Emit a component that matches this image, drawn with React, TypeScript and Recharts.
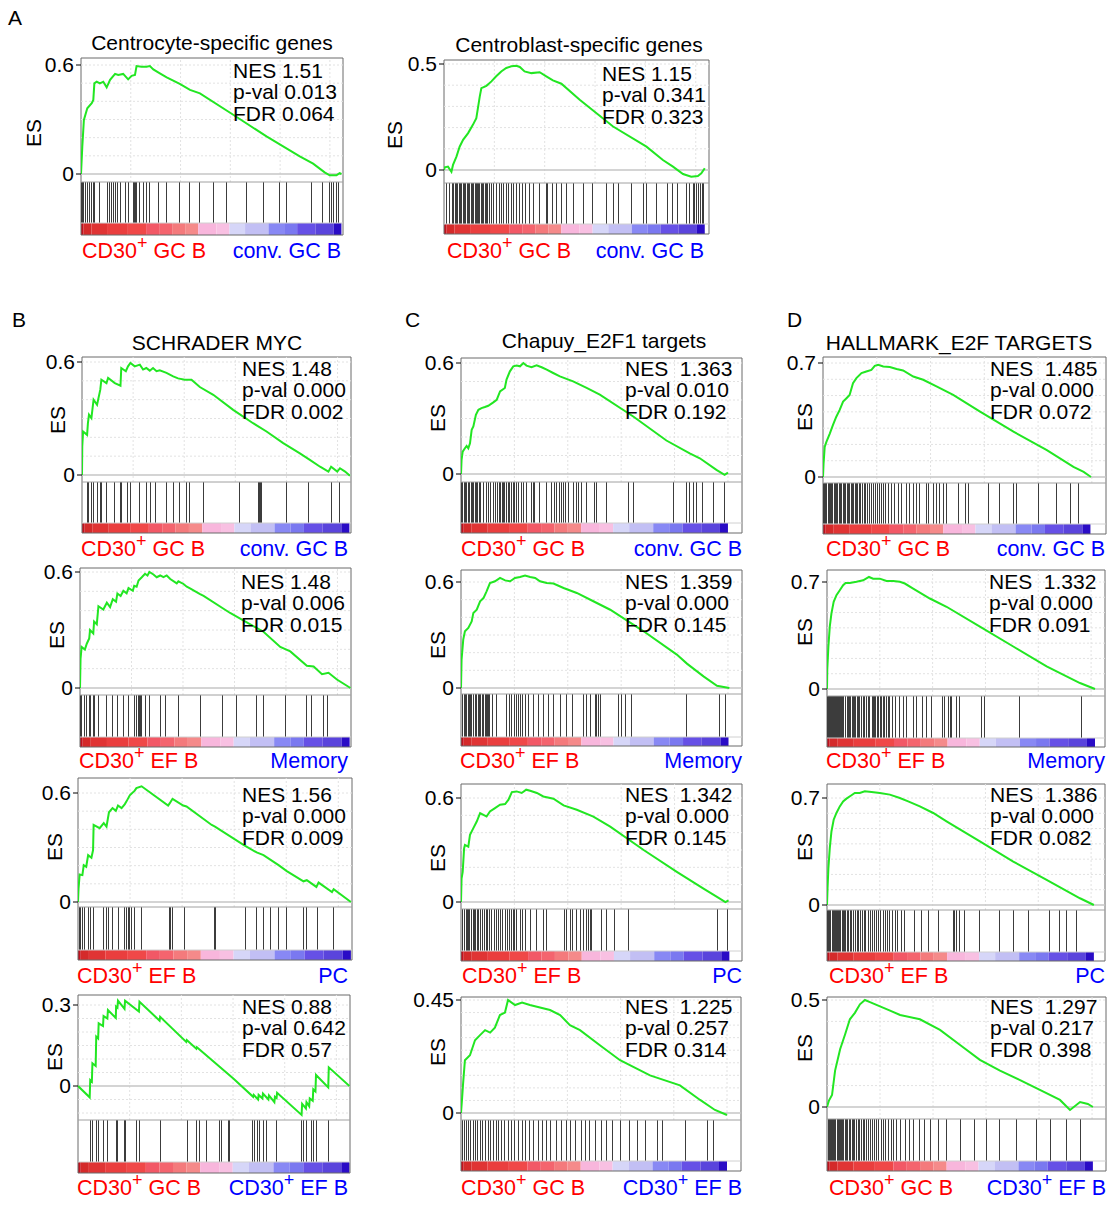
import React from 'react';
import { ComposedChart, Line, XAxis, YAxis, ReferenceLine, ReferenceArea } from 'recharts';

const FONT = '"Liberation Sans", Arial, Helvetica, sans-serif';
const GREEN = '#22e622';
const RED = '#ff0000';
const BLUE = '#0000ff';

// ---------- shared ranked-list heat bar ----------
const GRADIENT_EDGES = [0, 1, 4, 10, 18, 25, 30, 35, 40, 45, 52, 57, 63, 72, 78, 83, 90, 97, 100];
const GRADIENT_COLORS = ['#c0121e', '#d42a2a', '#e03434', '#ea3e3e', '#f04848', '#f25866', '#f4646e', '#f47a7c', '#f58a8a', '#f8b6dc', '#f8c0e2', '#d6d6f8', '#c2bff4', '#8888f4', '#7a78f0', '#6650e6', '#5a44dc', '#2a0cc6'];
const V_GRID = [19, 38, 57, 76, 95];

// ---------- A1 Centrocyte-specific genes ----------
const A1_POS = [0, 0.5, 1.1, 2.4, 4.1, 4.7, 5.1, 6.0, 7.2, 8.5, 9.8, 11.1, 13.0, 14.2, 16.1, 18.0, 19.3, 20.6, 21.2, 23.1, 25.0, 26.3, 27.6, 30.1, 32.7, 37.7, 41.6, 45.4, 58.1, 70.8, 83.5, 88.6, 93.0, 94.9, 97.5, 98.7, 99.4];
const A1_ES = [0, 0.152, 0.298, 0.362, 0.39, 0.408, 0.499, 0.508, 0.499, 0.508, 0.477, 0.518, 0.551, 0.545, 0.551, 0.521, 0.54, 0.545, 0.594, 0.591, 0.591, 0.594, 0.576, 0.554, 0.532, 0.496, 0.463, 0.444, 0.326, 0.207, 0.097, 0.057, 0.009, -0.007, -0.007, 0.005, 0];
const A1_HITS = [0.3, 0.6, 1.1, 1.7, 2.4, 3.2, 4.1, 4.7, 5.3, 7.2, 10.0, 10.8, 11.7, 12.3, 13.3, 13.9, 14.9, 16.8, 18.0, 19.9, 20.3, 20.7, 21.1, 22.5, 24.0, 25.0, 26.0, 29.5, 32.7, 37.7, 41.6, 45.4, 50.4, 55.5, 63.2, 69.5, 75.9, 78.4, 87.9, 92.1, 94.9, 95.6, 96.2, 97.5, 98.1];
const A1_STATS = ['NES 1.51', 'p-val 0.013', 'FDR 0.064'];

// ---------- A2 Centroblast-specific genes ----------
const A2_POS = [0, 0.3, 1.5, 2.8, 3.4, 4.7, 5.9, 7.2, 9.1, 10.9, 12.2, 13.5, 14.1, 16.0, 17.9, 19.7, 21.6, 23.5, 25.4, 27.3, 28.6, 30.4, 33.0, 36.1, 38.6, 41.1, 44.3, 51.2, 63.8, 76.4, 82.6, 86.4, 90.2, 93.3, 95.8, 97.1, 98.4];
const A2_ES = [0, 0.013, 0.016, -0.008, 0.024, 0.063, 0.11, 0.142, 0.174, 0.213, 0.244, 0.347, 0.386, 0.397, 0.418, 0.442, 0.465, 0.481, 0.489, 0.492, 0.486, 0.465, 0.457, 0.461, 0.442, 0.423, 0.407, 0.331, 0.205, 0.11, 0.047, 0.016, -0.019, -0.032, -0.028, -0.016, 0.008];
const A2_HITS = [0.9, 2.1, 3.1, 3.6, 4.2, 4.7, 5.2, 5.7, 6.2, 6.7, 7.2, 7.7, 8.2, 8.7, 9.2, 9.7, 10.2, 10.7, 11.2, 11.7, 12.2, 12.6, 13.0, 13.5, 14.0, 14.5, 15.0, 15.5, 16.0, 16.6, 17.2, 18.0, 18.7, 19.7, 20.8, 21.6, 22.5, 23.5, 24.5, 25.4, 26.3, 27.3, 28.6, 29.6, 30.6, 32.1, 33.6, 36.1, 38.6, 39.2, 41.1, 42.4, 44.3, 46.2, 48.7, 52.7, 56.2, 61.5, 63.8, 65.7, 70.7, 75.1, 76.4, 80.1, 84.2, 86.4, 88.3, 91.4, 92.7, 94.0, 94.6, 95.2, 96.2, 96.9, 97.5, 98.0];
const A2_STATS = ['NES 1.15', 'p-val 0.341', 'FDR 0.323'];

// ---------- B1 SCHRADER MYC, GC ----------
const B1_POS = [0, 0.1, 0.4, 1.9, 2.2, 2.6, 3.5, 4.3, 5.6, 6.8, 7.2, 9.1, 9.7, 12.2, 14.3, 14.6, 16.3, 17.1, 18.0, 19.6, 21.5, 22.7, 23.9, 25.2, 26.4, 27.7, 28.9, 31.4, 33.9, 35.7, 38.2, 40.7, 43.8, 48.8, 56.2, 63.6, 68.6, 74.8, 81.0, 84.7, 88.5, 91.6, 92.6, 94.9, 95.9, 97.8, 99.6];
const B1_ES = [0, 0.151, 0.231, 0.213, 0.275, 0.32, 0.302, 0.40, 0.373, 0.453, 0.506, 0.488, 0.515, 0.488, 0.474, 0.568, 0.551, 0.577, 0.595, 0.577, 0.586, 0.56, 0.568, 0.554, 0.568, 0.551, 0.556, 0.542, 0.524, 0.513, 0.506, 0.506, 0.467, 0.426, 0.346, 0.275, 0.231, 0.169, 0.115, 0.08, 0.044, 0.018, 0.044, 0.018, 0.036, 0.018, -0.004];
const B1_HITS = [1.9, 2.2, 2.6, 3.5, 4.1, 4.3, 5.6, 6.8, 7.1, 7.3, 9.1, 12.2, 14.3, 14.5, 14.8, 17.1, 18.0, 21.5, 23.9, 25.4, 27.4, 31.4, 33.9, 36.4, 38.8, 39.8, 45.0, 58.7, 65.5, 65.9, 66.4, 66.7, 76.1, 84.1, 92.6, 95.9];
const B1_STATS = ['NES 1.48', 'p-val 0.000', 'FDR 0.002'];

// ---------- C1 Chapuy_E2F1, GC ----------
const C1_POS = [0, 0.2, 0.6, 1.4, 2.0, 2.6, 3.2, 3.8, 4.4, 5.3, 6.2, 7.3, 8.5, 9.7, 11.5, 12.7, 13.9, 15.6, 16.2, 17.4, 18.6, 19.8, 21.0, 22.2, 23.3, 25.1, 26.9, 28.7, 30.5, 32.8, 35.2, 39.9, 44.7, 49.4, 61.3, 73.1, 81.4, 85.0, 90.9, 93.8, 95.0];
const C1_ES = [0, 0.076, 0.121, 0.139, 0.152, 0.139, 0.166, 0.239, 0.257, 0.32, 0.347, 0.356, 0.362, 0.369, 0.387, 0.401, 0.447, 0.465, 0.51, 0.555, 0.582, 0.586, 0.582, 0.60, 0.586, 0.577, 0.588, 0.577, 0.564, 0.546, 0.528, 0.501, 0.465, 0.429, 0.311, 0.181, 0.112, 0.085, 0.022, -0.005, 0.007];
const C1_HITS = [0.2, 0.6, 1.1, 1.5, 2.0, 2.6, 3.2, 3.8, 4.1, 4.6, 5.1, 5.6, 6.0, 6.5, 7.0, 7.9, 8.9, 9.7, 10.5, 11.5, 12.2, 12.9, 13.6, 14.1, 14.6, 15.0, 15.5, 16.2, 16.8, 17.4, 18.0, 18.6, 19.2, 19.8, 20.4, 21.6, 22.2, 23.3, 25.1, 25.7, 26.3, 28.1, 30.5, 32.2, 33.1, 34.0, 35.0, 35.8, 36.4, 37.3, 38.2, 39.9, 41.1, 41.7, 42.9, 44.7, 47.6, 48.2, 51.8, 59.5, 61.3, 75.5, 80.2, 81.4, 82.6, 83.8, 86.1, 89.7, 93.8];
const C1_STATS = ['NES  1.363', 'p-val 0.010', 'FDR 0.192'];

// ---------- D1 HALLMARK_E2F, GC ----------
const D1_POS = [0, 0.2, 0.6, 1.2, 2.4, 3.5, 4.7, 5.9, 7.1, 8.3, 9.4, 10.6, 11.8, 13.6, 15.3, 17.1, 18.3, 19.5, 21.3, 23.6, 26.0, 28.3, 31.9, 35.4, 40.1, 46.0, 55.5, 67.3, 79.1, 88.5, 92.1, 94.7];
const D1_ES = [0, 0.082, 0.185, 0.216, 0.267, 0.319, 0.37, 0.412, 0.463, 0.484, 0.504, 0.576, 0.607, 0.638, 0.648, 0.658, 0.683, 0.689, 0.679, 0.675, 0.663, 0.654, 0.617, 0.597, 0.556, 0.504, 0.401, 0.278, 0.165, 0.062, 0.031, 0];
const D1_HITS = [0.2, 0.6, 1.0, 1.4, 1.8, 2.2, 2.7, 3.1, 3.5, 3.9, 4.4, 4.8, 5.3, 5.8, 6.2, 6.7, 7.1, 7.6, 8.1, 8.5, 9.0, 9.5, 10.0, 10.4, 10.9, 11.4, 11.9, 12.3, 12.8, 13.4, 14.0, 14.5, 15.1, 15.8, 16.5, 17.2, 17.8, 18.5, 19.1, 19.8, 20.6, 21.3, 22.1, 23.0, 24.2, 25.4, 26.6, 27.7, 29.5, 30.7, 31.9, 32.9, 34.2, 36.6, 37.2, 39.0, 40.1, 41.3, 42.5, 43.7, 47.8, 50.2, 51.4, 58.4, 62.5, 67.3, 68.5, 76.2, 82.6, 87.4, 90.3];
const D1_STATS = ['NES  1.485', 'p-val 0.000', 'FDR 0.072'];

// ---------- B2 SCHRADER MYC, EF vs Memory ----------
const B2_POS = [0, 0.2, 0.6, 1.8, 2.5, 3.4, 3.7, 4.9, 5.2, 6.2, 6.8, 8.6, 9.9, 11.1, 12.1, 13.3, 13.8, 15.0, 16.0, 17.2, 17.9, 19.5, 20.0, 20.9, 21.6, 22.8, 24.0, 24.9, 25.6, 27.1, 28.3, 29.6, 30.8, 32.0, 33.3, 35.7, 36.3, 38.2, 39.4, 40.6, 44.3, 45.6, 55.4, 67.7, 73.9, 77.6, 83.7, 86.2, 89.3, 91.7, 94.8, 99.8];
const B2_ES = [0, 0.15, 0.212, 0.199, 0.229, 0.256, 0.3, 0.282, 0.344, 0.33, 0.423, 0.406, 0.441, 0.418, 0.459, 0.446, 0.489, 0.476, 0.503, 0.49, 0.517, 0.503, 0.529, 0.524, 0.556, 0.573, 0.591, 0.582, 0.60, 0.587, 0.573, 0.582, 0.573, 0.582, 0.564, 0.541, 0.552, 0.538, 0.524, 0.515, 0.485, 0.476, 0.388, 0.291, 0.212, 0.189, 0.115, 0.111, 0.071, 0.079, 0.044, 0];
const B2_HITS = [0.2, 0.5, 1.8, 2.5, 3.4, 3.7, 4.9, 5.5, 6.8, 9.9, 12.1, 13.8, 16.0, 17.9, 20.0, 20.9, 21.6, 21.9, 22.4, 22.8, 24.0, 25.6, 29.6, 31.4, 36.3, 44.6, 52.7, 57.9, 65.3, 67.7, 75.7, 83.7, 85.6, 89.9, 91.5];
const B2_STATS = ['NES 1.48', 'p-val 0.006', 'FDR 0.015'];

// ---------- C2 ----------
const C2_POS = [0, 0.2, 0.8, 1.4, 2.6, 3.8, 4.4, 5.6, 6.8, 8.0, 9.1, 10.3, 12.1, 13.9, 15.7, 17.5, 19.2, 21.0, 22.8, 24.6, 26.4, 28.1, 30.5, 32.9, 36.5, 41.2, 47.1, 53.1, 65.0, 76.8, 80.4, 86.3, 91.1, 93.5, 95.5];
const C2_ES = [0, 0.16, 0.274, 0.321, 0.34, 0.377, 0.425, 0.443, 0.491, 0.509, 0.547, 0.594, 0.604, 0.623, 0.609, 0.604, 0.623, 0.628, 0.636, 0.628, 0.623, 0.604, 0.594, 0.591, 0.566, 0.538, 0.491, 0.443, 0.321, 0.189, 0.138, 0.066, 0.013, 0.006, 0];
const C2_HITS = [0.6, 1.1, 1.5, 2.0, 2.5, 3.0, 3.4, 3.9, 4.4, 5.0, 5.6, 6.1, 6.5, 7.0, 7.5, 8.0, 8.6, 8.9, 9.4, 9.9, 10.3, 11.3, 12.5, 16.3, 17.2, 18.1, 18.9, 19.6, 20.4, 21.0, 22.0, 22.8, 24.0, 25.8, 27.6, 29.3, 31.1, 32.9, 35.3, 37.6, 39.8, 43.6, 44.8, 46.0, 47.7, 48.3, 48.9, 49.5, 56.1, 57.2, 58.4, 60.8, 80.2, 92.0, 94.1];
const C2_STATS = ['NES  1.359', 'p-val 0.000', 'FDR 0.145'];

// ---------- D2 ----------
const D2_POS = [0, 0.1, 0.5, 1.0, 1.6, 2.4, 3.4, 4.6, 5.8, 6.7, 8.2, 10.6, 13.0, 15.1, 16.6, 19.0, 21.4, 23.8, 26.2, 28.0, 31.0, 37.0, 43.0, 55.0, 67.0, 79.0, 91.0, 96.4];
const D2_ES = [0, 0.126, 0.278, 0.408, 0.495, 0.57, 0.614, 0.646, 0.679, 0.694, 0.694, 0.701, 0.711, 0.733, 0.722, 0.722, 0.707, 0.707, 0.701, 0.69, 0.657, 0.592, 0.538, 0.408, 0.278, 0.148, 0.039, 0];
const D2_HITS = [0.1, 0.4, 0.7, 1.0, 1.3, 1.6, 1.9, 2.2, 2.5, 2.8, 3.1, 3.4, 3.7, 4.0, 4.3, 4.6, 4.9, 5.2, 5.5, 5.8, 6.1, 6.7, 7.2, 7.6, 8.2, 8.6, 9.1, 9.6, 10.0, 10.3, 10.8, 11.3, 11.8, 12.4, 13.0, 13.6, 14.2, 14.8, 15.4, 16.3, 16.8, 17.2, 17.5, 18.0, 18.4, 18.7, 19.2, 19.7, 20.2, 20.8, 21.4, 22.0, 22.6, 23.5, 24.7, 25.9, 27.4, 28.6, 31.0, 32.2, 34.3, 35.8, 37.6, 41.5, 42.4, 43.6, 44.4, 44.8, 46.6, 47.8, 55.6, 56.8, 69.4, 91.6];
const D2_STATS = ['NES  1.332', 'p-val 0.000', 'FDR 0.091'];

// ---------- B3 ----------
const B3_POS = [0, 0.2, 0.6, 1.6, 2.1, 3.0, 3.7, 4.9, 5.5, 5.7, 7.9, 9.4, 10.4, 11.3, 12.6, 13.8, 14.6, 15.9, 17.1, 17.7, 18.9, 20.7, 21.3, 23.2, 32.9, 33.5, 34.5, 38.4, 39.6, 48.8, 50.0, 60.4, 65.2, 67.7, 73.2, 76.2, 82.3, 83.5, 87.0, 87.8, 92.7, 93.3, 99.6];
const B3_ES = [0, 0.074, 0.151, 0.148, 0.203, 0.194, 0.258, 0.244, 0.286, 0.424, 0.406, 0.434, 0.415, 0.494, 0.517, 0.502, 0.531, 0.517, 0.539, 0.554, 0.587, 0.613, 0.627, 0.637, 0.531, 0.544, 0.568, 0.531, 0.526, 0.424, 0.415, 0.314, 0.273, 0.258, 0.203, 0.17, 0.114, 0.12, 0.083, 0.107, 0.055, 0.07, 0];
const B3_HITS = [0.4, 0.9, 1.8, 2.4, 3.7, 4.5, 5.7, 9.4, 10.4, 11.3, 12.6, 14.6, 17.1, 17.7, 18.3, 18.9, 19.5, 20.7, 23.2, 33.3, 33.8, 34.5, 39.0, 49.8, 50.2, 61.0, 65.2, 67.7, 70.1, 73.2, 76.2, 82.3, 83.3, 87.4, 93.3];
const B3_STATS = ['NES 1.56', 'p-val 0.000', 'FDR 0.009'];

// ---------- C3 ----------
const C3_POS = [0, 0.2, 0.6, 1.1, 1.4, 2.6, 3.2, 4.4, 5.6, 6.8, 8.0, 9.1, 10.3, 12.1, 13.9, 15.7, 16.9, 18.1, 19.8, 21.6, 23.2, 24.6, 27.0, 29.3, 32.9, 36.5, 41.2, 47.1, 53.1, 65.0, 76.8, 86.3, 91.1, 94.1, 95.2];
const C3_ES = [0, 0.135, 0.174, 0.309, 0.329, 0.319, 0.387, 0.426, 0.464, 0.513, 0.503, 0.493, 0.522, 0.542, 0.561, 0.565, 0.59, 0.634, 0.638, 0.629, 0.648, 0.642, 0.629, 0.609, 0.596, 0.557, 0.532, 0.493, 0.435, 0.30, 0.174, 0.077, 0.029, 0, 0.01];
const C3_HITS = [0.6, 1.2, 1.8, 2.3, 2.7, 3.2, 3.6, 3.9, 4.4, 4.9, 5.3, 5.8, 6.3, 7.0, 7.7, 8.2, 8.9, 9.6, 10.3, 11.0, 11.8, 12.5, 13.2, 13.9, 14.8, 15.7, 16.5, 17.2, 18.1, 18.6, 19.2, 19.8, 21.0, 22.0, 22.8, 24.6, 27.0, 29.3, 30.5, 36.7, 37.6, 38.8, 39.8, 41.2, 42.6, 43.6, 44.5, 45.4, 46.0, 46.6, 50.1, 51.9, 54.5, 59.6, 91.3, 94.9];
const C3_STATS = ['NES  1.342', 'p-val 0.000', 'FDR 0.145'];

// ---------- D3 ----------
const D3_POS = [0, 0.2, 0.5, 1.0, 1.6, 2.4, 3.4, 4.6, 5.8, 7.0, 8.8, 10.0, 11.8, 13.6, 16.0, 19.0, 22.6, 26.2, 29.2, 33.4, 38.2, 43.0, 55.0, 67.0, 79.0, 91.0, 96.0];
const D3_ES = [0, 0.109, 0.241, 0.372, 0.481, 0.558, 0.602, 0.645, 0.678, 0.696, 0.718, 0.733, 0.733, 0.744, 0.74, 0.733, 0.722, 0.70, 0.678, 0.645, 0.602, 0.547, 0.416, 0.284, 0.164, 0.044, 0];
const D3_HITS = [0.2, 0.6, 1.0, 1.4, 1.8, 2.2, 2.6, 3.0, 3.4, 3.8, 4.2, 4.6, 5.0, 5.4, 5.8, 6.2, 6.7, 7.2, 7.8, 8.3, 8.9, 9.5, 10.1, 10.8, 11.4, 12.0, 12.7, 13.4, 14.0, 14.8, 15.5, 16.2, 17.0, 17.8, 18.6, 19.4, 20.2, 21.0, 21.8, 22.6, 23.5, 24.5, 25.5, 26.8, 28.0, 31.6, 34.0, 36.4, 40.0, 45.4, 46.0, 46.6, 47.8, 49.5, 55.0, 62.2, 67.0, 72.4, 80.2, 83.8, 86.2, 89.6];
const D3_STATS = ['NES  1.386', 'p-val 0.000', 'FDR 0.082'];

// ---------- B4 ----------
const B4_POS = [0, 4.3, 4.5, 5.1, 5.3, 6.5, 6.7, 7.4, 7.6, 9.2, 9.4, 10.8, 11.0, 13.9, 14.0, 14.5, 14.7, 17.1, 17.3, 22.4, 22.6, 30.0, 30.2, 39.8, 40.0, 43.5, 43.7, 57.1, 64.4, 64.6, 66.2, 66.4, 67.8, 68.0, 70.0, 70.2, 72.2, 72.4, 73.0, 73.2, 82.2, 82.4, 83.8, 84.0, 85.0, 85.2, 86.3, 86.5, 87.3, 87.5, 92.0, 92.2, 99.8];
const B4_ES = [0, -0.042, 0.022, 0.016, 0.084, 0.074, 0.183, 0.176, 0.232, 0.222, 0.259, 0.25, 0.281, 0.252, 0.294, 0.29, 0.316, 0.286, 0.316, 0.276, 0.312, 0.242, 0.256, 0.163, 0.17, 0.138, 0.144, 0.028, -0.04, -0.033, -0.05, -0.033, -0.046, -0.028, -0.05, -0.035, -0.06, -0.04, -0.045, -0.025, -0.107, -0.066, -0.083, -0.06, -0.075, -0.046, -0.055, -0.012, -0.02, 0.041, -0.005, 0.069, 0];
const B4_HITS = [4.5, 5.3, 6.7, 7.6, 9.4, 11.0, 14.1, 14.5, 17.2, 17.5, 21.5, 22.7, 30.3, 40.1, 43.6, 44.8, 47.2, 52.1, 52.8, 55.2, 55.8, 64.2, 65.0, 65.9, 66.9, 68.1, 69.3, 73.0, 82.2, 82.8, 84.0, 85.9, 86.5, 87.7, 92.0];
const B4_STATS = ['NES 0.88', 'p-val 0.642', 'FDR 0.57'];

// ---------- C4 ----------
const C4_POS = [0, 0.4, 0.7, 1.4, 3.2, 5.0, 6.8, 8.6, 10.4, 12.1, 13.9, 15.7, 16.8, 19.3, 21.8, 24.6, 28.2, 31.8, 35.4, 38.9, 42.5, 49.6, 56.8, 67.5, 78.2, 85.4, 90.7, 95.0];
const C4_ES = [0, 0.06, 0.11, 0.21, 0.23, 0.29, 0.31, 0.33, 0.32, 0.34, 0.39, 0.40, 0.45, 0.43, 0.44, 0.43, 0.42, 0.41, 0.39, 0.35, 0.33, 0.27, 0.21, 0.15, 0.11, 0.052, 0.012, -0.008];
const C4_HITS = [0.5, 1.2, 2.0, 2.8, 3.5, 4.3, 5.2, 6.0, 7.0, 7.8, 8.8, 9.8, 10.6, 11.5, 12.5, 13.4, 14.5, 15.5, 16.8, 18.0, 19.2, 20.5, 21.8, 23.0, 24.5, 26.0, 27.5, 29.0, 30.5, 32.0, 34.0, 36.0, 37.5, 39.0, 41.0, 43.0, 44.5, 46.0, 48.0, 50.0, 52.0, 54.0, 57.0, 60.0, 63.0, 66.0, 70.0, 72.0, 80.0, 88.0, 90.0];
const C4_STATS = ['NES  1.225', 'p-val 0.257', 'FDR 0.314'];

// ---------- D4 ----------
const D4_POS = [0, 0.7, 1.8, 2.9, 4.7, 6.5, 8.2, 10.0, 11.8, 13.6, 15.4, 19.0, 22.6, 26.2, 33.3, 40.5, 47.7, 54.8, 62.0, 69.2, 76.3, 83.5, 87.1, 90.7, 93.5, 95.3];
const D4_ES = [0, 0.03, 0.056, 0.17, 0.27, 0.34, 0.41, 0.44, 0.48, 0.50, 0.49, 0.47, 0.45, 0.43, 0.41, 0.36, 0.29, 0.22, 0.17, 0.126, 0.08, 0.033, -0.014, 0.023, 0.014, 0];
const D4_HITS = [0.4, 0.8, 1.2, 1.6, 2.0, 2.4, 2.8, 3.2, 3.6, 4.0, 4.4, 4.8, 5.2, 5.6, 6.0, 6.5, 7.0, 7.5, 8.0, 8.5, 9.0, 9.5, 10.0, 10.6, 11.2, 11.8, 12.4, 13.0, 13.6, 14.2, 14.8, 15.5, 16.2, 17.0, 17.8, 18.6, 19.4, 20.2, 21.0, 22.0, 23.0, 24.0, 25.0, 26.5, 28.0, 29.5, 31.0, 33.0, 35.0, 37.0, 40.0, 43.0, 48.0, 53.0, 57.0, 62.0, 68.0, 75.0, 80.0, 86.0, 91.0];
const D4_STATS = ['NES  1.297', 'p-val 0.217', 'FDR 0.398'];

// ---------- panel layout (pixels) ----------
type Lay = { left: number; right: number; top: number; pmax: number; vmax: number; p0: number; sep: number; g1: number; g2: number; listEnd: number; step: number;
  nesX: number; nesY: number; esX: number; esY: number; labY: number; labL: number; labR: number; };

const PANELS: { lay: Lay; pos: number[]; es: number[]; hits: number[]; stats: string[]; left: string; right: string; rightSup?: boolean }[] = [
  { lay: { left: 81, right: 343, top: 58, pmax: 65, vmax: 0.6, p0: 174, sep: 182, g1: 223, g2: 235, listEnd: 99.4, step: 0.1, nesX: 233, nesY: 71, esX: 34, esY: 133, labY: 251, labL: 82, labR: 341 }, pos: A1_POS, es: A1_ES, hits: A1_HITS, stats: A1_STATS, left: ' GC B', right: 'conv. GC B' },
  { lay: { left: 444, right: 709, top: 60, pmax: 64, vmax: 0.5, p0: 170, sep: 183, g1: 224, g2: 234, listEnd: 98.4, step: 0.1, nesX: 602, nesY: 74, esX: 395, esY: 135, labY: 251, labL: 447, labR: 704 }, pos: A2_POS, es: A2_ES, hits: A2_HITS, stats: A2_STATS, left: ' GC B', right: 'conv. GC B' },
  { lay: { left: 82, right: 351, top: 357, pmax: 362, vmax: 0.6, p0: 475, sep: 482, g1: 523, g2: 533, listEnd: 99.4, step: 0.1, nesX: 242, nesY: 369, esX: 58, esY: 420, labY: 549, labL: 81, labR: 348 }, pos: B1_POS, es: B1_ES, hits: B1_HITS, stats: B1_STATS, left: ' GC B', right: 'conv. GC B' },
  { lay: { left: 461, right: 742, top: 358, pmax: 363, vmax: 0.6, p0: 474, sep: 482, g1: 523, g2: 533, listEnd: 95, step: 0.1, nesX: 625, nesY: 369, esX: 438, esY: 418, labY: 549, labL: 461, labR: 742 }, pos: C1_POS, es: C1_ES, hits: C1_HITS, stats: C1_STATS, left: ' GC B', right: 'conv. GC B' },
  { lay: { left: 823, right: 1106, top: 357, pmax: 363, vmax: 0.7, p0: 477, sep: 483, g1: 524, g2: 534, listEnd: 94.5, step: 0.1, nesX: 990, nesY: 369, esX: 805, esY: 417, labY: 549, labL: 826, labR: 1105 }, pos: D1_POS, es: D1_ES, hits: D1_HITS, stats: D1_STATS, left: ' GC B', right: 'conv. GC B' },
  { lay: { left: 80, right: 351, top: 568, pmax: 572, vmax: 0.6, p0: 688, sep: 695, g1: 737, g2: 747, listEnd: 99.5, step: 0.1, nesX: 241, nesY: 582, esX: 57, esY: 635, labY: 761, labL: 79, labR: 348 }, pos: B2_POS, es: B2_ES, hits: B2_HITS, stats: B2_STATS, left: ' EF B', right: 'Memory' },
  { lay: { left: 461, right: 742, top: 570, pmax: 582, vmax: 0.6, p0: 688, sep: 694, g1: 737, g2: 746, listEnd: 95.2, step: 0.1, nesX: 625, nesY: 582, esX: 438, esY: 645, labY: 761, labL: 460, labR: 742 }, pos: C2_POS, es: C2_ES, hits: C2_HITS, stats: C2_STATS, left: ' EF B', right: 'Memory' },
  { lay: { left: 827, right: 1105, top: 570, pmax: 582, vmax: 0.7, p0: 689, sep: 696, g1: 738, g2: 747, listEnd: 96.4, step: 0.1, nesX: 989, nesY: 582, esX: 805, esY: 632, labY: 761, labL: 826, labR: 1105 }, pos: D2_POS, es: D2_ES, hits: D2_HITS, stats: D2_STATS, left: ' EF B', right: 'Memory' },
  { lay: { left: 78, right: 352, top: 778, pmax: 793, vmax: 0.6, p0: 902, sep: 907, g1: 950, g2: 960, listEnd: 99.6, step: 0.1, nesX: 242, nesY: 795, esX: 55, esY: 847, labY: 976, labL: 77, labR: 348 }, pos: B3_POS, es: B3_ES, hits: B3_HITS, stats: B3_STATS, left: ' EF B', right: 'PC' },
  { lay: { left: 461, right: 742, top: 784, pmax: 798, vmax: 0.6, p0: 902, sep: 909, g1: 951, g2: 961, listEnd: 95.5, step: 0.1, nesX: 625, nesY: 795, esX: 438, esY: 858, labY: 976, labL: 462, labR: 742 }, pos: C3_POS, es: C3_ES, hits: C3_HITS, stats: C3_STATS, left: ' EF B', right: 'PC' },
  { lay: { left: 827, right: 1105, top: 784, pmax: 798, vmax: 0.7, p0: 905, sep: 910, g1: 952, g2: 961, listEnd: 96, step: 0.1, nesX: 990, nesY: 795, esX: 805, esY: 847, labY: 976, labL: 829, labR: 1105 }, pos: D3_POS, es: D3_ES, hits: D3_HITS, stats: D3_STATS, left: ' EF B', right: 'PC' },
  { lay: { left: 78, right: 350, top: 995, pmax: 1005, vmax: 0.3, p0: 1086, sep: 1120, g1: 1162, g2: 1173, listEnd: 99.8, step: 0.05, nesX: 242, nesY: 1007, esX: 55, esY: 1057, labY: 1188, labL: 77, labR: 348 }, pos: B4_POS, es: B4_ES, hits: B4_HITS, stats: B4_STATS, left: ' GC B', right: ' EF B', rightSup: true },
  { lay: { left: 461, right: 741, top: 997, pmax: 1000, vmax: 0.45, p0: 1113, sep: 1120, g1: 1161, g2: 1171, listEnd: 95, step: 0.05, nesX: 625, nesY: 1007, esX: 438, esY: 1052, labY: 1188, labL: 461, labR: 742 }, pos: C4_POS, es: C4_ES, hits: C4_HITS, stats: C4_STATS, left: ' GC B', right: ' EF B', rightSup: true },
  { lay: { left: 827, right: 1106, top: 997, pmax: 1000, vmax: 0.5, p0: 1107, sep: 1119, g1: 1161, g2: 1171, listEnd: 95.3, step: 0.1, nesX: 990, nesY: 1007, esX: 805, esY: 1048, labY: 1188, labL: 829, labR: 1106 }, pos: D4_POS, es: D4_ES, hits: D4_HITS, stats: D4_STATS, left: ' GC B', right: ' EF B', rightSup: true },
];

const TITLES = [
  { text: 'Centrocyte-specific genes', x: 212, y: 43 },
  { text: 'Centroblast-specific genes', x: 579, y: 45 },
  { text: 'SCHRADER MYC', x: 217, y: 343 },
  { text: 'Chapuy_E2F1 targets', x: 604, y: 341 },
  { text: 'HALLMARK_E2F TARGETS', x: 959, y: 343 },
];
const LETTERS = [
  { text: 'A', x: 8, y: 18 },
  { text: 'B', x: 12, y: 320 },
  { text: 'C', x: 405, y: 320 },
  { text: 'D', x: 787, y: 320 },
];

const YW = 54, MT = 14, MB = 4, MR = 4;
const FS = 21;

function GseaChart({ lay, pos, es, hits }: { lay: Lay; pos: number[]; es: number[]; hits: number[] }) {
  const upp = lay.vmax / (lay.p0 - lay.pmax);
  const yTop = lay.vmax + (lay.pmax - lay.top) * upp;
  const ySep = -(lay.sep - lay.p0) * upp;
  const gTop = -(lay.g1 - lay.p0) * upp;
  const gBot = -(lay.g2 - lay.p0) * upp;
  const data = pos.map((x, i) => ({ x, es: es[i] }));
  const boxW = lay.right - lay.left;
  const hg: number[] = [];
  for (let k = 1; k * lay.step < yTop; k++) hg.push(+(k * lay.step).toFixed(3));
  for (let k = -1; k * lay.step > ySep; k--) hg.push(+(k * lay.step).toFixed(3));
  const scale = lay.listEnd / 100;
  return (
    <div style={{ position: 'absolute', left: lay.left - YW, top: lay.top - MT }}>
      <ComposedChart width={YW + boxW + MR} height={MT + (lay.g2 - lay.top) + MB} data={data} margin={{ top: MT, right: MR, bottom: MB, left: 0 }}>
        <XAxis type="number" dataKey="x" domain={[0, 100]} hide allowDataOverflow />
        <YAxis type="number" domain={[gBot, yTop]} ticks={[0, lay.vmax]} allowDataOverflow width={YW} axisLine={false}
          tickLine={{ stroke: '#000', strokeWidth: 1 }} tickSize={5} tickMargin={2} interval={0}
          tick={{ fontSize: FS, fill: '#000', fontFamily: FONT }} tickFormatter={(v: number) => String(v)} />
        {hg.map((v) => (
          <ReferenceLine key={'h' + v} segment={[{ x: 0, y: v }, { x: 100, y: v }]} stroke="#e2e2e2" strokeDasharray="2 2" />
        ))}
        {V_GRID.map((v) => (
          <ReferenceLine key={'v' + v} segment={[{ x: v, y: ySep }, { x: v, y: yTop }]} stroke="#e2e2e2" strokeDasharray="2 2" />
        ))}
        {GRADIENT_COLORS.map((c, i) => (
          <ReferenceArea key={'g' + i} x1={GRADIENT_EDGES[i] * scale} x2={GRADIENT_EDGES[i + 1] * scale} y1={gBot} y2={gTop} fill={c} fillOpacity={1} stroke="none" ifOverflow="visible" />
        ))}
        {hits.map((h, i) => (
          <ReferenceLine key={'k' + i} segment={[{ x: h, y: ySep }, { x: h, y: gTop }]} stroke="#3c3c3c" strokeWidth={1} shapeRendering="crispEdges" />
        ))}
        <ReferenceLine y={0} stroke="#c6c6c6" strokeWidth={1.5} />
        <ReferenceLine segment={[{ x: 0, y: ySep }, { x: 100, y: ySep }]} stroke="#a0a0a0" />
        <ReferenceLine segment={[{ x: 0, y: gTop }, { x: 100, y: gTop }]} stroke="#d0d0d0" />
        <Line type="linear" dataKey="es" stroke={GREEN} strokeWidth={2} dot={false} isAnimationActive={false} />
        <ReferenceArea x1={0} x2={100} y1={gBot} y2={yTop} fill="none" fillOpacity={0} stroke="#6a6a6a" strokeWidth={1} ifOverflow="visible" />
      </ComposedChart>
    </div>
  );
}

const txt: React.CSSProperties = { position: 'absolute', fontSize: FS, lineHeight: '24px', whiteSpace: 'pre', fontFamily: FONT, color: '#000' };
const lab: React.CSSProperties = { ...txt, fontSize: 21.5 };
const sup: React.CSSProperties = { fontSize: 18, position: 'relative', top: -9 };

export default function App() {
  return (
    <div style={{ position: 'absolute', left: 0, top: 0, width: 1110, height: 1205, background: '#fff', fontFamily: FONT, overflow: 'hidden' }}>
      {PANELS.map((p, i) => (
        <GseaChart key={i} lay={p.lay} pos={p.pos} es={p.es} hits={p.hits} />
      ))}
      {PANELS.map((p, i) => (
        <React.Fragment key={'t' + i}>
          {p.stats.map((s, j) => (
            <div key={j} style={{ ...txt, left: p.lay.nesX, top: p.lay.nesY - 12 + j * 21.3 }}>{s}</div>
          ))}
          <div style={{ ...txt, left: p.lay.esX, top: p.lay.esY, transform: 'translate(-50%, -50%) rotate(-90deg)' }}>ES</div>
          <div style={{ ...lab, left: p.lay.labL, top: p.lay.labY - 12, color: RED }}>CD30<span style={sup}>+</span>{p.left}</div>
          <div style={{ ...lab, right: 1110 - p.lay.labR, top: p.lay.labY - 12, color: BLUE }}>
            {p.rightSup ? (<>CD30<span style={sup}>+</span>{p.right}</>) : p.right}
          </div>
        </React.Fragment>
      ))}
      {TITLES.map((t, i) => (
        <div key={'ti' + i} style={{ ...txt, left: t.x, top: t.y - 12, transform: 'translateX(-50%)' }}>{t.text}</div>
      ))}
      {LETTERS.map((t, i) => (
        <div key={'l' + i} style={{ ...txt, left: t.x, top: t.y - 12 }}>{t.text}</div>
      ))}
    </div>
  );
}
